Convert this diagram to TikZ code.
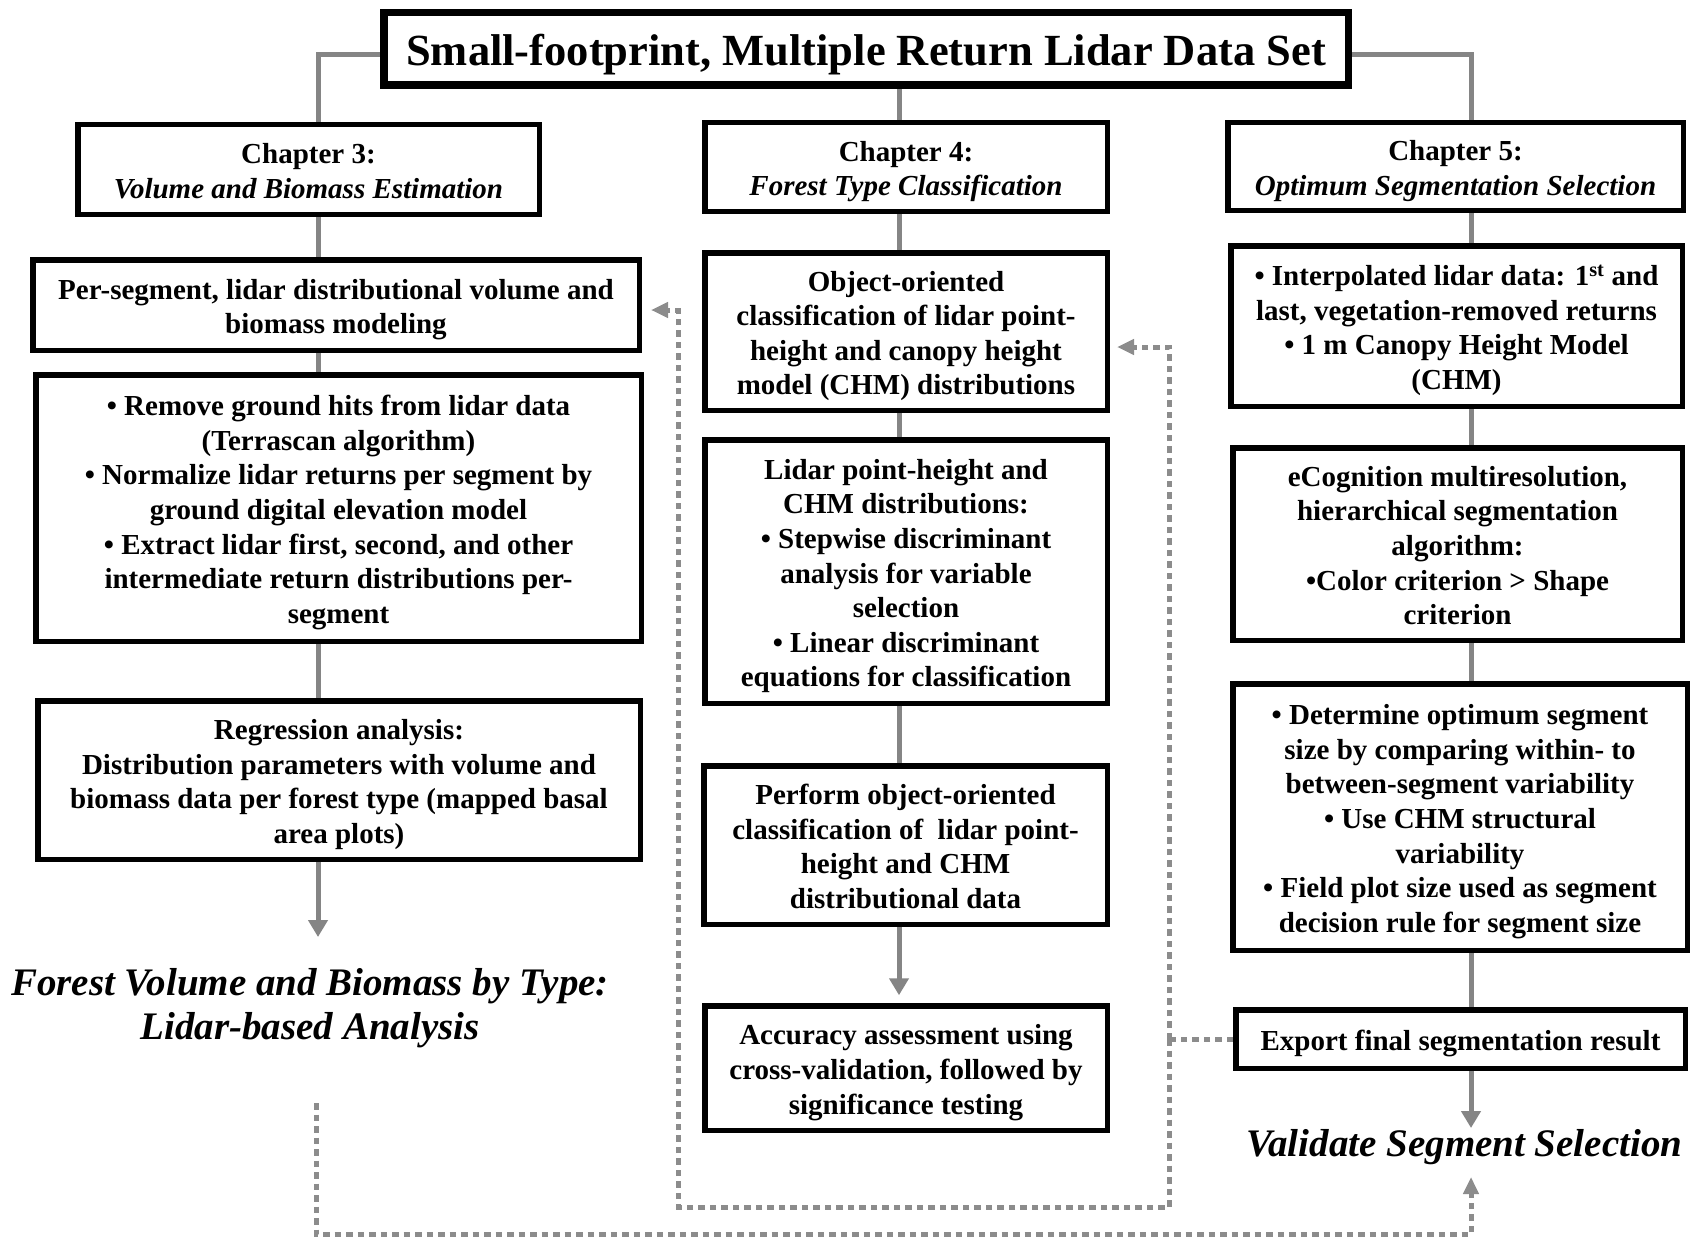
\documentclass[tikz,border=0pt]{standalone}
\usepackage{fontspec}
\setmainfont{Liberation Serif}
\usetikzlibrary{arrows.meta,backgrounds}
\definecolor{conncol}{HTML}{858585}
\definecolor{dotcol}{HTML}{8C8C8C}
\newcommand\fst{\rule{0pt}{30pt}}
\begin{document}
\begin{tikzpicture}[x=1pt,y=-1pt,
  box/.style={draw=black, line width=5.5pt, fill=white, inner sep=0pt, align=center,
    font=\bfseries\fontsize{29}{34.6}\selectfont,
    execute at end node={\rule[-7pt]{0pt}{0pt}}},
  titlebox/.style={draw=black, line width=7.5pt, fill=white, inner sep=0pt, align=center,
    font=\bfseries\fontsize{44.5}{50}\selectfont,
    execute at begin node={\rule{0pt}{44pt}},
    execute at end node={\rule[-10pt]{0pt}{0pt}}},
  biglabel/.style={inner sep=0pt, align=center, font=\bfseries\itshape\fontsize{39}{44}\selectfont},
  connline/.style={draw=conncol, line width=5pt},
  conntip/.style={-{Triangle[width=19pt,length=17pt]}},
  dotline/.style={draw=dotcol, line width=5pt, dash pattern=on 6.5pt off 5pt},
  dottip/.style={-{Triangle[width=15pt,length=17pt]}}
]
\path[use as bounding box] (0,0) rectangle (1692,1244);

% named coordinates for connector columns and levels
\coordinate (xL) at (318,0);
\coordinate (xM) at (899,0);
\coordinate (xR) at (1471,0);
\coordinate (xJ) at (1169,0);
\coordinate (xI) at (678,0);
\coordinate (yT) at (0,55);
\coordinate (yB1) at (0,347);
\coordinate (yA1) at (0,310);
\coordinate (yBot1) at (0,1207);
\coordinate (tipA) at (318,937);
\coordinate (tipC) at (1471,1128);
\coordinate (startFV) at (316,1103);
\coordinate (cornerC) at (1471,1234);
\coordinate (tipVS) at (1471,1177);

% title
\node[titlebox, minimum width=964.5pt, minimum height=72.5pt] (title) at (866,49)
  {Small-footprint, Multiple Return Lidar Data Set};

% chapter 3 column
\node[box, minimum width=461.5pt, minimum height=89.5pt] (ch3) at (308.5,169.5)
  {\fst Chapter 3:\\\textit{Volume and Biomass Estimation}};
\node[box, minimum width=606.5pt, minimum height=90.5pt] (A1) at (336,305)
  {\fst Per-segment, lidar distributional volume and\\biomass modeling};
\node[box, minimum width=605.5pt, minimum height=266.5pt] (A2) at (338.5,508)
  {\fst • Remove ground hits from lidar data\\(Terrascan algorithm)\\• Normalize lidar returns per segment by\\ground digital elevation model\\• Extract lidar first, second, and other\\intermediate return distributions per-\\segment};
\node[box, minimum width=602.5pt, minimum height=158.5pt] (A3) at (339,780)
  {\fst Regression analysis:\\Distribution parameters with volume and\\biomass data per forest type (mapped basal\\area plots)};
\node[biglabel] (FV) at (310,1008)
  {Forest Volume and Biomass by Type:\\Lidar-based Analysis};

% chapter 4 column
\node[box, minimum width=402.5pt, minimum height=88.5pt] (ch4) at (906,167)
  {\fst Chapter 4:\\\textit{Forest Type Classification}};
\node[box, minimum width=402.5pt, minimum height=157.5pt] (B1) at (906,331.5)
  {\fst Object-oriented\\classification of lidar point-\\height and canopy height\\model (CHM) distributions};
\node[box, minimum width=402.5pt, minimum height=263.5pt] (B2) at (906,571.5)
  {\fst Lidar point-height and\\CHM distributions:\\• Stepwise discriminant\\analysis for variable\\selection\\• Linear discriminant\\equations for classification};
\node[box, minimum width=403.5pt, minimum height=158.5pt] (B3) at (905.5,845)
  {\fst Perform object-oriented\\classification of\ \ lidar point-\\height and CHM\\distributional data};
\node[box, minimum width=402.5pt, minimum height=124.5pt] (B4) at (906,1068)
  {\fst Accuracy assessment using\\cross-validation, followed by\\significance testing};

% chapter 5 column
\node[box, minimum width=455.5pt, minimum height=87.5pt] (ch5) at (1455.5,166.5)
  {\fst Chapter 5:\\\textit{Optimum Segmentation Selection}};
\node[box, minimum width=451.5pt, minimum height=160.5pt] (C1) at (1456.5,326)
  {\fst • Interpolated lidar data: 1\textsuperscript{st} and\\last, vegetation-removed returns\\• 1 m Canopy Height Model\\(CHM)};
\node[box, minimum width=449.5pt, minimum height=192.5pt] (C2) at (1457.5,544)
  {\fst eCognition multiresolution,\\hierarchical segmentation\\algorithm:\\•Color criterion > Shape\\criterion};
\node[box, minimum width=454.5pt, minimum height=266.5pt] (C3) at (1460,817)
  {\fst • Determine optimum segment\\size by comparing within- to\\between-segment variability\\• Use CHM structural\\variability\\• Field plot size used as segment\\decision rule for segment size};
\node[box, minimum width=449.5pt, minimum height=58.5pt] (C4) at (1460.5,1039)
  {\fst Export final segmentation result};
\node[biglabel, anchor=base] (VS) at (1464.5,1156) {Validate Segment Selection};

\begin{scope}[on background layer]
  \fill[white] (0,0) rectangle (1692,1244);
  % solid connectors
  \draw[connline] (title.west |- yT) -| (xL |- ch3.north);
  \draw[connline] (xM |- title.south) -- (xM |- ch4.north);
  \draw[connline] (title.east |- yT) -| (xR |- ch5.north);
  \draw[connline] (xL |- ch3.south) -- (xL |- A1.north);
  \draw[connline] (xL |- A1.south) -- (xL |- A2.north);
  \draw[connline] (xL |- A2.south) -- (xL |- A3.north);
  \draw[connline, conntip] (xL |- A3.south) -- (tipA);
  \draw[connline] (xM |- ch4.south) -- (xM |- B1.north);
  \draw[connline] (xM |- B1.south) -- (xM |- B2.north);
  \draw[connline] (xM |- B2.south) -- (xM |- B3.north);
  \draw[connline, conntip] (xM |- B3.south) -- ([yshift=7.75pt]xM |- B4.north);
  \draw[connline] (xR |- ch5.south) -- (xR |- C1.north);
  \draw[connline] (xR |- C1.south) -- (xR |- C2.north);
  \draw[connline] (xR |- C2.south) -- (xR |- C3.north);
  \draw[connline] (xR |- C3.south) -- (xR |- C4.north);
  \draw[connline, conntip] (xR |- C4.south) -- (tipC);
  % dotted feedback connectors
  \draw[dotline] (C4.west) -- (xJ |- C4.west);
  \draw[dotline, dottip] (xJ |- C4.west) |- ([xshift=7pt]B1.east |- yB1);
  \draw[dotline, dottip] (xJ |- C4.west) |- (xI |- yBot1) |- ([xshift=9pt]A1.east |- yA1);
  \draw[dotline, dottip] (startFV) |- (cornerC) -- (tipVS);
\end{scope}
\end{tikzpicture}
\end{document}
